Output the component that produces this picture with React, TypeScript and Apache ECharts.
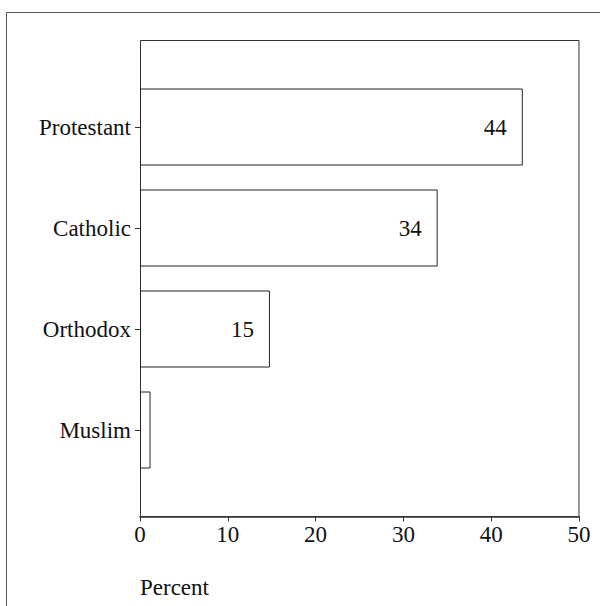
import React, { useEffect, useRef } from "react";
import * as echarts from "echarts";

const categories = ["Protestant", "Catholic", "Orthodox", "Muslim"];
const percentValues = [43.6, 33.9, 14.8, 1.2];
const xTicks = { min: 0, max: 50, interval: 10 };
const xTitle = "Percent";

const FONT = "'Liberation Serif', 'Times New Roman', serif";
const FS = 23;

export default function App() {
  const ref = useRef<HTMLDivElement>(null);
  useEffect(() => {
    if (!ref.current) return;
    const chart = echarts.init(ref.current, null, { renderer: "svg" });
    chart.setOption({
      animation: false,
      backgroundColor: "#fff",
      title: {
        text: xTitle,
        left: 140,
        top: 576,
        textStyle: { fontFamily: FONT, fontSize: FS, fontWeight: "normal", color: "#111" },
        padding: 0,
      },
      graphic: [
        {
          type: "rect",
          shape: { x: 6.5, y: 12.5, width: 800, height: 800 },
          style: { fill: "none", stroke: "#555", lineWidth: 1 },
          z: 0,
        },
        {
          type: "rect",
          shape: { x: 140.5, y: 40.5, width: 438.5, height: 476 },
          style: { fill: "none", stroke: "#333", lineWidth: 1 },
          z: 1,
        },
      ],
      grid: { left: 140, right: 21, top: 76.5, bottom: 125.5 },
      xAxis: {
        type: "value",
        min: xTicks.min,
        max: xTicks.max,
        interval: xTicks.interval,
        offset: 36,
        axisLine: { show: true, lineStyle: { color: "#333", width: 1.5 } },
        axisTick: { show: true, length: 5, lineStyle: { color: "#333" } },
        splitLine: { show: false },
        axisLabel: { color: "#111", fontFamily: FONT, fontSize: FS, margin: 6 },
      },
      yAxis: {
        type: "category",
        inverse: true,
        data: categories,
        axisLine: { show: false },
        axisTick: { show: true, alignWithLabel: true, length: 5, lineStyle: { color: "#333" } },
        axisLabel: { color: "#111", fontFamily: FONT, fontSize: FS, margin: 9 },
      },
      series: [
        {
          type: "bar",
          data: percentValues,
          barWidth: 77,
          itemStyle: { color: "#fff", borderColor: "#222", borderWidth: 1 },
          label: {
            show: true,
            position: "insideRight",
            distance: 16,
            color: "#111",
            fontFamily: FONT,
            fontSize: FS,
            formatter: (p: any) => (p.value >= 5 ? String(Math.round(p.value)) : ""),
          },
          z: 2,
        },
      ],
    });
    return () => chart.dispose();
  }, []);
  return (
    <div
      ref={ref}
      style={{ position: "fixed", left: 0, top: 0, width: 600, height: 606 }}
    />
  );
}
